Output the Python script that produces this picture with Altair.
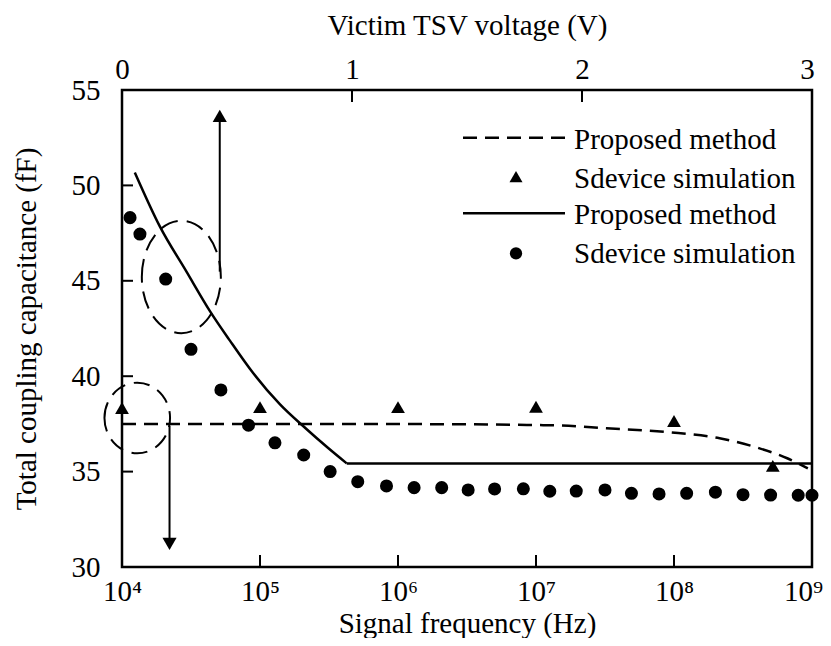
import altair as alt
import pandas as pd

FONT = "Liberation Serif"
FS = 29
W, H = 690, 477

# ---- bottom axis series: signal frequency (Hz) ----
dash_freq = [1e4, 1e5, 1e6, 3.16e6, 1e7, 1.48e7, 3.24e7, 9.33e7, 2.14e8, 4.17e8, 6.61e8, 9.33e8]
dash_cap = [37.49, 37.49, 37.49, 37.48, 37.44, 37.42, 37.27, 37.06, 36.75, 36.22, 35.70, 35.17]
tri_freq = [1e4, 1e5, 1e6, 1e7, 1e8, 5.2e8]
tri_cap = [38.33, 38.38, 38.38, 38.40, 37.65, 35.30]

# ---- top axis series: victim TSV voltage (V) ----
solid_v = [0.056, 0.165, 0.281, 0.383, 0.470, 0.571, 0.687, 0.803, 0.890, 0.977, 3.0]
solid_cap = [50.67, 47.84, 45.47, 43.40, 41.85, 40.15, 38.52, 37.22, 36.30, 35.43, 35.43]
knee_v = 0.977
dot_v = [0.035, 0.078, 0.19, 0.30, 0.43, 0.55, 0.665, 0.79, 0.905, 1.025, 1.15, 1.27, 1.39,
         1.505, 1.62, 1.745, 1.86, 1.975, 2.10, 2.215, 2.335, 2.455, 2.58, 2.70, 2.82, 2.94, 3.0]
dot_cap = [48.31, 47.45, 45.09, 41.41, 39.28, 37.43, 36.51, 35.87, 35.00, 34.47, 34.25, 34.16, 34.16,
           34.04, 34.09, 34.10, 33.97, 33.98, 34.04, 33.86, 33.83, 33.86, 33.92, 33.79, 33.77, 33.76, 33.76]

# ---- ticks ----
freq_ticks = [1e4, 1e5, 1e6, 1e7, 1e8, 1e9]
volt_ticks = [0, 1, 2, 3]
cap_ticks = [30, 35, 40, 45, 50, 55]

# ---- annotations (data coordinates) ----
ell_top = {"v": [0.258], "c": [45.2]}
ell_bot = {"f": [1.29e4], "c": [37.81]}
arrow_up = {"v": [0.425], "c1": [45.48], "c2": [53.64]}
arrow_down = {"f": [2.21e4], "c1": [37.39], "c2": [31.21]}

legend_labels = ["Proposed method", "Sdevice simulation", "Proposed method", "Sdevice simulation"]

SUP = "['\u2070','\u00b9','\u00b2','\u00b3','\u2074','\u2075','\u2076','\u2077','\u2078','\u2079']"

fscale = alt.Scale(type="log", domain=[1e4, 1e9])
vscale = alt.Scale(type="linear", domain=[0, 3])
cscale = alt.Scale(domain=[30, 55])

common_axis = dict(ticks=False, domain=False, grid=False, labelFont=FONT, labelFontSize=FS,
                   labelColor="#000000", titleFont=FONT, titleFontSize=FS, titleFontWeight="normal",
                   titleColor="#000000", labelOverlap=False, labelFlush=False)

bottom_axis = alt.Axis(values=freq_ticks, orient="bottom", title="Signal frequency (Hz)",
                       labelExpr="'10' + " + SUP + "[round(log(datum.value)/LN10)]",
                       labelOffset={"condition": {"test": "datum.value > 5e8", "value": -9}, "value": 0},
                       labelPadding=10, titlePadding=3, **common_axis)
top_axis = alt.Axis(values=volt_ticks, orient="top", title="Victim TSV voltage (V)", format="d",
                    labelOffset={"condition": {"test": "datum.value > 2.5", "value": -5}, "value": 0},
                    labelPadding=6, titlePadding=15, **common_axis)
left_axis = alt.Axis(values=cap_ticks, orient="left", title="Total coupling capacitance (fF)",
                     labelPadding=22, titlePadding=30, **common_axis)


def FX(field, axis=None):
    return alt.X(field, type="quantitative", scale=fscale, axis=axis)


def VX(field, axis=None):
    return alt.X(field, type="quantitative", scale=vscale, axis=axis)


def CY(field):
    # every layer carries the identical left axis so the shared y axis merges cleanly
    return alt.Y(field, type="quantitative", scale=cscale, axis=left_axis)


# ---------- frequency-axis marks ----------
dash_df = pd.DataFrame({"f": dash_freq, "c": dash_cap})
tri_df = pd.DataFrame({"f": tri_freq, "c": tri_cap})

dashed = alt.Chart(dash_df).mark_line(color="black", strokeWidth=2.5, strokeDash=[14, 8],
                                      interpolate="monotone").encode(
    x=FX("f", bottom_axis), y=CY("c"))
tris = alt.Chart(tri_df).mark_point(shape="triangle-up", filled=True, color="black", size=190,
                                    opacity=1).encode(x=FX("f"), y=CY("c"))
bticks = alt.Chart(pd.DataFrame({"f": freq_ticks[1:-1]})).mark_rule(color="black", strokeWidth=2).encode(
    x=FX("f"), y=alt.value(H), y2=alt.value(H - 12))
lticks = alt.Chart(pd.DataFrame({"c": cap_ticks[1:-1]})).mark_rule(color="black", strokeWidth=2).encode(
    y=CY("c"), x=alt.value(0), x2=alt.value(11))
ell2 = alt.Chart(pd.DataFrame(ell_bot)).mark_point(
    shape="M -0.929 0 A 0.929 1 0 1 1 0.929 0 A 0.929 1 0 1 1 -0.929 0 Z",
    size=4984, filled=False, color="black", strokeWidth=2, strokeDash=[16, 9], opacity=1).encode(
    x=FX("f"), y=CY("c"))
arr2 = alt.Chart(pd.DataFrame(arrow_down)).mark_rule(color="black", strokeWidth=2).encode(
    x=FX("f"), y=CY("c1"), y2="c2")
head2 = alt.Chart(pd.DataFrame(arrow_down)).mark_point(shape="triangle-down", filled=True, color="black",
                                                      size=200, opacity=1).encode(x=FX("f"), y=CY("c2"))

# ---------- voltage-axis marks ----------
solid_df = pd.DataFrame({"v": solid_v, "c": solid_cap})
curve_df = solid_df[solid_df.v <= knee_v]
flat_df = solid_df[solid_df.v >= knee_v]
dot_df = pd.DataFrame({"v": dot_v, "c": dot_cap})

solid_curve = alt.Chart(curve_df).mark_line(color="black", strokeWidth=2.5, interpolate="monotone").encode(
    x=VX("v", top_axis), y=CY("c"))
solid_flat = alt.Chart(flat_df).mark_line(color="black", strokeWidth=2.5).encode(
    x=VX("v"), y=CY("c"))
dots = alt.Chart(dot_df).mark_point(shape="circle", filled=True, color="black", size=170,
                                    opacity=1).encode(x=VX("v"), y=CY("c"))
tticks = alt.Chart(pd.DataFrame({"v": volt_ticks[1:-1]})).mark_rule(color="black", strokeWidth=2).encode(
    x=VX("v"), y=alt.value(0), y2=alt.value(12))
ell1 = alt.Chart(pd.DataFrame(ell_top)).mark_point(
    shape="M -0.703 0 A 0.703 1 0 1 1 0.703 0 A 0.703 1 0 1 1 -0.703 0 Z",
    size=12634, filled=False, color="black", strokeWidth=2, strokeDash=[18, 9], opacity=1).encode(
    x=VX("v"), y=CY("c"))
arr1 = alt.Chart(pd.DataFrame(arrow_up)).mark_rule(color="black", strokeWidth=2).encode(
    x=VX("v"), y=CY("c1"), y2="c2")
head1 = alt.Chart(pd.DataFrame(arrow_up)).mark_point(shape="triangle-up", filled=True, color="black",
                                                    size=200, opacity=1).encode(x=VX("v"), y=CY("c2"))

# ---------- legend (inside plot, pixel positions) ----------
leg = []
text_y = [49.6, 88.6, 124.6, 163.6]
for lab, ty in zip(legend_labels, text_y):
    leg.append(alt.Chart(pd.DataFrame({"t": [lab]})).mark_text(
        font=FONT, fontSize=FS, color="black", align="left", baseline="middle").encode(
        text="t:N", x=alt.value(452), y=alt.value(ty)))
leg.append(alt.Chart(pd.DataFrame({"t": [legend_labels[0]]})).mark_rule(
    color="black", strokeWidth=2.5, strokeDash=[14, 8]).encode(
    x=alt.value(341), x2=alt.value(443), y=alt.value(47.7)))
leg.append(alt.Chart(pd.DataFrame({"t": [legend_labels[1]]})).mark_point(
    shape="triangle-up", filled=True, color="black", size=170, opacity=1).encode(
    x=alt.value(394), y=alt.value(86.7)))
leg.append(alt.Chart(pd.DataFrame({"t": [legend_labels[2]]})).mark_rule(
    color="black", strokeWidth=2.5).encode(
    x=alt.value(341), x2=alt.value(443), y=alt.value(123.3)))
leg.append(alt.Chart(pd.DataFrame({"t": [legend_labels[3]]})).mark_point(
    shape="circle", filled=True, color="black", size=150, opacity=1).encode(
    x=alt.value(394), y=alt.value(163.3)))

chart = alt.layer(
    dashed, tris, bticks, lticks, ell2, arr2, head2,
    solid_curve, solid_flat, dots, tticks, ell1, arr1, head1, *leg
).resolve_scale(x="independent").properties(
    width=W, height=H,
    autosize=alt.AutoSizeParams(type="none"),
    padding={"left": 114, "top": 82, "right": 11, "bottom": 71},
).configure_view(stroke="black", strokeWidth=2.5)

chart.save("out.html", embed_options={"renderer": "svg", "actions": False})
